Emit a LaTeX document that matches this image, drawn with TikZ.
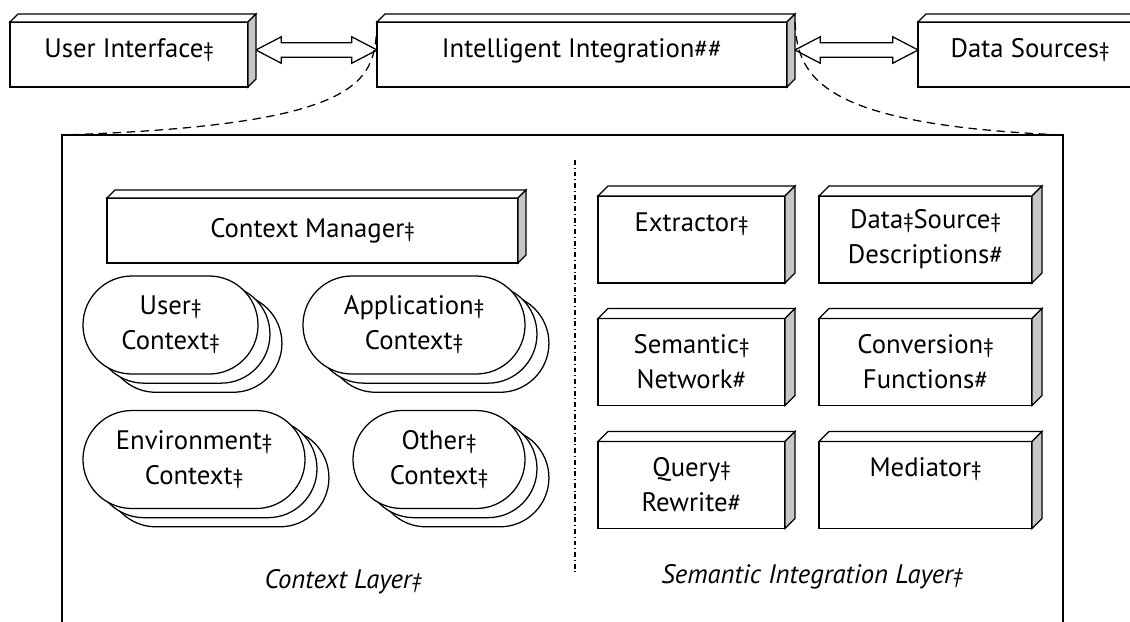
\documentclass[tikz,border=0pt]{standalone}
\usepackage{fontspec}
\setmainfont{PT Sans}
\usetikzlibrary{shapes.misc,shapes.arrows,shadows}

\newcommand{\dg}{{\fontsize{15}{15}\selectfont ‡}}
\newcommand{\hs}{{\fontsize{18}{18}\selectfont\#}}

\begin{document}
\begin{tikzpicture}[x=0.025cm, y=-0.025cm, line width=0.9pt,
    every node/.style={font=\fontsize{19}{25}\selectfont, align=center},
    block/.style={draw, fill=white, inner sep=0pt, outer sep=0pt, minimum height=1.625cm},
    toplevel/.style={block, text height=13pt, text depth=9pt},
    comp/.style={draw, fill=white, inner sep=0pt, outer sep=0pt, minimum height=2.175cm},
    ctx/.style={rounded rectangle, draw, fill=white, inner sep=0pt, minimum height=2.45cm,
        copy shadow={shadow xshift=17pt, shadow yshift=-13pt},
        copy shadow={shadow xshift=8.5pt, shadow yshift=-6.5pt}},
    link/.style={double arrow, draw, fill=white, inner xsep=0pt, inner ysep=0.165cm,
        minimum width=0.63cm, double arrow head extend=0.15cm, double arrow tip angle=55},
    cubetop/.style={draw, fill=white},
    cubeside/.style={draw, fill=gray!45},
    zoomline/.style={dash pattern=on 6pt off 4pt},
    divider/.style={line width=0.8pt, dash pattern=on 3.5pt off 2pt on 0.7pt off 2pt},
    layer/.style={font=\fontsize{19}{25}\selectfont\itshape}
]
    \useasboundingbox (0,0) rectangle (1130,621);
    \clip (0,0) rectangle (1130,621);

    % top level
    \node[toplevel, minimum width=5.95cm] (ui) at (129,54.5) {User Interface\dg};
    \node[toplevel, minimum width=10.25cm] (ii) at (582,54.5) {Intelligent Integration\hs\hs};
    \node[toplevel, minimum width=5.6cm] (ds) at (1030,54.5) {Data Sources\dg};
    \node[link, minimum height=3.03cm] (uiarr) at (316.5,50) {};
    \node[link, minimum height=3.08cm] (dsarr) at (856.5,50) {};

    % expanded frame
    \coordinate (frameNW) at (62,135);
    \coordinate (frameNE) at (1063,135);
    \draw (62,640) -- (frameNW) -- (frameNE) -- (1063,640);
    \draw[divider] (575,160) -- (575,575);

    % context layer
    \node[block, minimum width=10.275cm] (cm) at (312.5,230.5) {Context Manager\dg};
    \node[ctx, minimum width=4.375cm] (uc) at (170.5,325) {User\dg\\Context\dg};
    \node[ctx, minimum width=5.55cm] (ac) at (414,325) {Application\dg\\Context\dg};
    \node[ctx, minimum width=5.55cm] (ec) at (194,459.5) {Environment\dg\\Context\dg};
    \node[ctx, minimum width=4.3cm] (oc) at (439,459.5) {Other\dg\\Context\dg};
    \node[layer] (ctxlayer) at (343,582) {Context Layer\dg};

    % semantic integration layer
    \node[comp, minimum width=4.675cm] (ex) at (691.5,239.5) {Extractor\dg\\\mbox{}};
    \node[comp, minimum width=5.325cm] (dsd) at (925.5,239.5) {Data\dg Source\dg\\Descriptions\hs};
    \node[comp, minimum width=4.675cm] (sn) at (691.5,362) {Semantic\dg\\Network\hs};
    \node[comp, minimum width=5.325cm] (cf) at (925.5,362) {Conversion\dg\\Functions\hs};
    \node[comp, minimum width=4.675cm] (qr) at (691.5,485) {Query\dg\\Rewrite\hs};
    \node[comp, minimum width=5.325cm] (med) at (925.5,485) {Mediator\dg\\\mbox{}};
    \node[layer] (silayer) at (812,577) {Semantic Integration Layer\dg};

    \foreach \n/\d in {ui/8, ii/8, ds/8, cm/8, ex/10, dsd/10, sn/10, cf/10, qr/10, med/10} {
        \draw[cubetop] (\n.north west) -- ++(\d,-\d) -- ([shift={(\d,-\d)}]\n.north east) -- (\n.north east) -- cycle;
        \draw[cubeside] (\n.north east) -- ++(\d,-\d) -- ([shift={(\d,-\d)}]\n.south east) -- (\n.south east) -- cycle;
    }

    \draw[zoomline] (ii.north west) .. controls (375,80) and (370,125) .. (frameNW);
    \draw[zoomline] ([xshift=0.2cm]ii.north east) .. controls (797,80) and (825,125) .. (frameNE);
\end{tikzpicture}
\end{document}
